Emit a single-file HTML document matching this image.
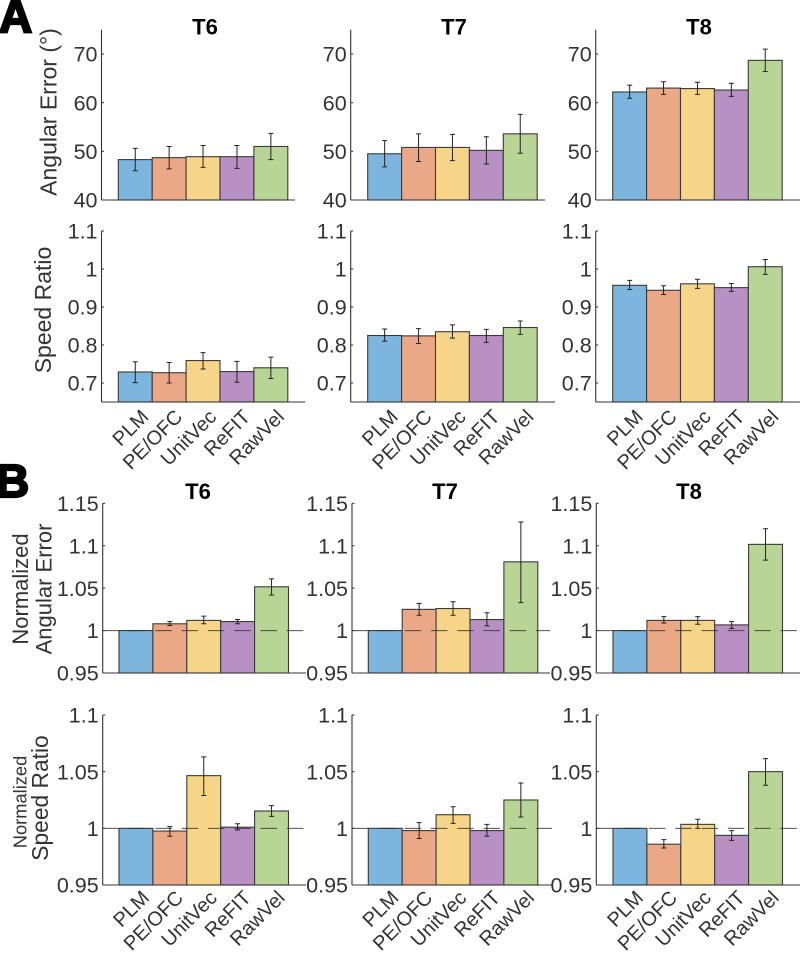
<!DOCTYPE html>
<html lang="en">
<head>
<meta charset="utf-8">
<title>Decoder comparison bar charts</title>
<style>
html,body{margin:0;padding:0;background:#fff;width:800px;height:954px;overflow:hidden}
svg{display:block;font-family:"Liberation Sans",Arial,sans-serif}
</style>
</head>
<body>
<svg id="chart" width="800" height="954" viewBox="0 0 800 954" xmlns="http://www.w3.org/2000/svg">
  <text x="-1" y="32" font-size="46" font-weight="bold" stroke="#000" stroke-width="2.2" fill="#000">A</text>
  <text x="-4" y="497" font-size="46" font-weight="bold" stroke="#000" stroke-width="2.2" fill="#000">B</text>
  <text transform="translate(56.5 112) rotate(-90)" text-anchor="middle" font-size="23" fill="#333">Angular Error (°)</text>
  <text transform="translate(51 310) rotate(-90)" text-anchor="middle" font-size="23" fill="#333">Speed Ratio</text>
  <text transform="translate(28 589) rotate(-90)" text-anchor="middle" font-size="22" fill="#333">Normalized</text>
  <text transform="translate(51.5 589) rotate(-90)" text-anchor="middle" font-size="22" fill="#333">Angular Error</text>
  <text transform="translate(26.5 802) rotate(-90)" text-anchor="middle" font-size="18.3" fill="#333">Normalized</text>
  <text transform="translate(48 798) rotate(-90)" text-anchor="middle" font-size="22.8" fill="#333">Speed Ratio</text>
</svg>
<script>
// ---- Data ----
const categories = ['PLM', 'PE/OFC', 'UnitVec', 'ReFIT', 'RawVel'];
const columnTitles = ['T6', 'T7', 'T8'];

const angularTicks = [40, 50, 60, 70];
const angularTickLabels = ['40', '50', '60', '70'];
const speedTicks = [0.7, 0.8, 0.9, 1, 1.1];
const speedTickLabels = ['0.7', '0.8', '0.9', '1', '1.1'];
const normAngularTicks = [0.95, 1, 1.05, 1.1, 1.15];
const normAngularTickLabels = ['0.95', '1', '1.05', '1.1', '1.15'];
const normSpeedTicks = [0.95, 1, 1.05, 1.1];
const normSpeedTickLabels = ['0.95', '1', '1.05', '1.1'];

const angularT6 = [48.3, 48.7, 48.9, 48.9, 51.0];
const angularT6Low = [46.0, 46.4, 46.7, 46.5, 48.3];
const angularT6High = [50.6, 51.0, 51.2, 51.2, 53.7];
const angularT7 = [49.5, 50.8, 50.8, 50.2, 53.6];
const angularT7Low = [46.8, 47.9, 48.1, 47.4, 49.6];
const angularT7High = [52.2, 53.6, 53.5, 53.0, 57.6];
const angularT8 = [62.2, 63.0, 62.9, 62.6, 68.7];
const angularT8Low = [60.9, 61.7, 61.7, 61.3, 66.4];
const angularT8High = [63.6, 64.3, 64.2, 64.0, 71.0];

const speedT6 = [0.729, 0.727, 0.759, 0.730, 0.740];
const speedT6Low = [0.701, 0.700, 0.737, 0.702, 0.712];
const speedT6High = [0.756, 0.754, 0.780, 0.757, 0.768];
const speedT7 = [0.825, 0.824, 0.835, 0.825, 0.846];
const speedT7Low = [0.810, 0.804, 0.818, 0.807, 0.828];
const speedT7High = [0.842, 0.843, 0.853, 0.841, 0.863];
const speedT8 = [0.957, 0.944, 0.961, 0.951, 1.006];
const speedT8Low = [0.946, 0.933, 0.949, 0.941, 0.986];
const speedT8High = [0.970, 0.956, 0.973, 0.962, 1.025];

const normAngularT6 = [1, 1.008, 1.012, 1.0106, 1.0516];
const normAngularT6Low = [1, 1.006, 1.008, 1.008, 1.042];
const normAngularT6High = [1, 1.0106, 1.017, 1.013, 1.061];
const normAngularT7 = [1, 1.025, 1.026, 1.013, 1.081];
const normAngularT7Low = [1, 1.018, 1.018, 1.0055, 1.033];
const normAngularT7High = [1, 1.032, 1.034, 1.021, 1.128];
const normAngularT8 = [1, 1.012, 1.012, 1.0067, 1.1016];
const normAngularT8Low = [1, 1.009, 1.0075, 1.0024, 1.083];
const normAngularT8High = [1, 1.0165, 1.0165, 1.0106, 1.12];

const normSpeedT6 = [1, 0.9976, 1.0465, 1.001, 1.0153];
const normSpeedT6Low = [1, 0.993, 1.029, 0.9985, 1.0106];
const normSpeedT6High = [1, 1.0015, 1.063, 1.004, 1.02];
const normSpeedT7 = [1, 0.998, 1.012, 0.998, 1.025];
const normSpeedT7Low = [1, 0.991, 1.0044, 0.993, 1.01];
const normSpeedT7High = [1, 1.005, 1.019, 1.0035, 1.04];
const normSpeedT8 = [1, 0.986, 1.0035, 0.9938, 1.05];
const normSpeedT8Low = [1, 0.9826, 1, 0.9894, 1.038];
const normSpeedT8High = [1, 0.99, 1.008, 0.998, 1.0615];

// ---- Layout ----
const colors = ['#7cb6de', '#eba886', '#f6d588', '#b990c4', '#b9d596'];
const rows = [
  { key: 'angular', min: 40, max: 75, top: 29.7, bottom: 200, ticks: angularTicks, labels: angularTickLabels,
    axisX: [101.5, 350.7, 595.7], barX: [118.3, 367.7, 612.7], endX: [295, 545, 800],
    series: [[angularT6, angularT6Low, angularT6High], [angularT7, angularT7Low, angularT7High], [angularT8, angularT8Low, angularT8High]] },
  { key: 'speed', min: 0.65, max: 1.1, top: 231, bottom: 402, ticks: speedTicks, labels: speedTickLabels, labelDy: 16,
    axisX: [101.5, 350.7, 595.7], barX: [118.3, 367.7, 612.7], endX: [305, 555, 800],
    series: [[speedT6, speedT6Low, speedT6High], [speedT7, speedT7Low, speedT7High], [speedT8, speedT8Low, speedT8High]] },
  { key: 'normalized-angular', min: 0.95, max: 1.15, top: 503.3, bottom: 673, ticks: normAngularTicks, labels: normAngularTickLabels,
    axisX: [102.7, 352, 596.3], barX: [119, 368.3, 613], endX: [306, 550, 800], refLine: 1,
    series: [[normAngularT6, normAngularT6Low, normAngularT6High], [normAngularT7, normAngularT7Low, normAngularT7High], [normAngularT8, normAngularT8Low, normAngularT8High]] },
  { key: 'normalized-speed', min: 0.95, max: 1.1, top: 715, bottom: 885, ticks: normSpeedTicks, labels: normSpeedTickLabels, labelDy: 14,
    axisX: [102.7, 352, 596.3], barX: [119, 368.3, 613], endX: [306, 552, 800], refLine: 1,
    series: [[normSpeedT6, normSpeedT6Low, normSpeedT6High], [normSpeedT7, normSpeedT7Low, normSpeedT7High], [normSpeedT8, normSpeedT8Low, normSpeedT8High]] }
];
const barWidth = 33.9;
const titleSpec = [{ y: 34.5, x: [205, 454, 699] }, null, { y: 499, x: [198, 445, 689] }, null];

// ---- Drawing ----
const svg = document.getElementById('chart');
const NS = 'http://www.w3.org/2000/svg';
function make(tag, attrs, parent) {
  const el = document.createElementNS(NS, tag);
  for (const k in attrs) el.setAttribute(k, attrs[k]);
  parent.appendChild(el);
  return el;
}
rows.forEach(function (row, r) {
  const yScale = function (v) {
    return row.bottom - (v - row.min) / (row.max - row.min) * (row.bottom - row.top);
  };
  columnTitles.forEach(function (title, c) {
    const ax = row.axisX[c];
    const panel = make('g', {}, svg);
    
    
    const xScale = function (i) { return row.barX[c] + barWidth * (i + 0.5); };
    const d = row.series[c];

    categories.forEach(function (cat, i) {
      const bar = make('rect', {
        x: xScale(i) - barWidth / 2, y: yScale(d[0][i]), width: barWidth,
        height: row.bottom - yScale(d[0][i]), fill: colors[i], stroke: '#3a3a3a', 'stroke-width': 1.1
      }, panel);
      
      
    });

    if (row.refLine !== undefined) {
      const ref = make('line', {
        x1: ax, x2: row.endX[c], y1: yScale(row.refLine), y2: yScale(row.refLine),
        stroke: '#333', 'stroke-opacity': 0.85, 'stroke-width': 1, 'stroke-dasharray': '16.5 9.8'
      }, panel);
      
      
    }

    categories.forEach(function (cat, i) {
      if (d[1][i] === d[2][i]) return;
      const x = xScale(i), lo = yScale(d[1][i]), hi = yScale(d[2][i]);
      const eb = make('path', {
        d: 'M' + x + ' ' + lo + 'V' + hi + 'M' + (x - 2.5) + ' ' + lo + 'h5M' + (x - 2.5) + ' ' + hi + 'h5',
        fill: 'none', stroke: '#222', 'stroke-width': 1
      }, panel);
      
      
    });

    const yAxis = make('line', { x1: ax, x2: ax, y1: row.top, y2: row.bottom, stroke: '#333', 'stroke-width': 1.1 }, panel);
    
    
    const xAxis = make('line', { x1: ax, x2: row.endX[c], y1: row.bottom, y2: row.bottom, stroke: '#333', 'stroke-width': 1.1 }, panel);
    
    

    row.ticks.forEach(function (t, i) {
      const y = yScale(t);
      const tick = make('line', { x1: ax, x2: ax + 2.5, y1: y, y2: y, stroke: '#333', 'stroke-width': 1 }, panel);
      
      
      const lab = make('text', { x: ax - 4, y: y + 7.6, 'text-anchor': 'end', 'font-size': 21.5, fill: '#333' }, panel);
      
      
      lab.textContent = row.labels[i];
    });

    if (titleSpec[r]) {
      const tt = make('text', { x: titleSpec[r].x[c], y: titleSpec[r].y, 'text-anchor': 'middle', 'font-size': 22, 'font-weight': 'bold', fill: '#000' }, panel);
      
      
      tt.textContent = title;
    }

    if (row.labelDy !== undefined) {
      categories.forEach(function (cat, i) {
        const px = xScale(i) + 14.5, py = row.bottom + row.labelDy;
        const lab = make('text', { transform: 'translate(' + px + ' ' + py + ') rotate(-45)', 'text-anchor': 'end', 'font-size': 20, fill: '#333' }, panel);
        
        
        lab.textContent = cat;
      });
    }
  });
});
</script>
</body>
</html>
